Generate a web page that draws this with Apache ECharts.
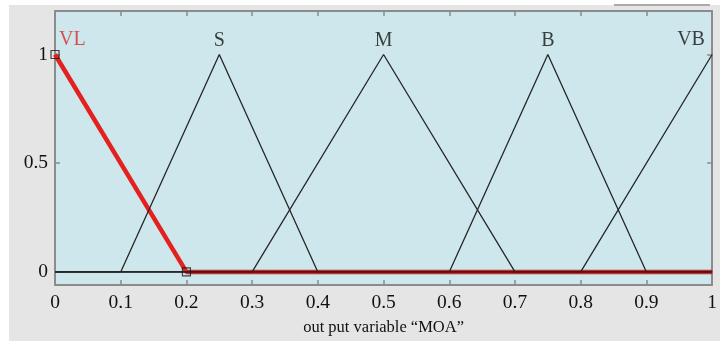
<!DOCTYPE html>
<html>
<head>
<meta charset="utf-8">
<script src="https://cdn.jsdelivr.net/npm/echarts@6/dist/echarts.min.js"></script>
<style>
  html, body { margin: 0; padding: 0; background: #ffffff; }
  #chart { width: 720px; height: 341px; }
</style>
</head>
<body>
<div id="chart"></div>
<script>
// Output variable "MOA": triangular membership functions on [0, 1]
const mfNames = ['VL', 'S', 'M', 'B', 'VB'];
const mfParams = [
  [0, 0, 0.2],
  [0.1, 0.25, 0.4],
  [0.3, 0.5, 0.7],
  [0.6, 0.75, 0.9],
  [0.8, 1, 1]
];
const xRange = [0, 1];
const xTicks = [0, 0.1, 0.2, 0.3, 0.4, 0.5, 0.6, 0.7, 0.8, 0.9, 1];
const yTicks = [0, 0.5, 1];
const selectedMf = 'VL';
const axisTitle = 'out put variable \u201cMOA\u201d';

// polyline of a triangular MF across the full universe of discourse
function trimfPoints(p) {
  const [a, b, c] = p;
  const pts = [];
  const push = (x, y) => {
    const last = pts[pts.length - 1];
    if (!last || last[0] !== x || last[1] !== y) pts.push([x, y]);
  };
  push(xRange[0], a === b ? 1 : 0);
  if (a !== b) push(a, 0);
  push(b, 1);
  if (b !== c) push(c, 0);
  push(xRange[1], c === b ? 1 : 0);
  return pts;
}

const serif = 'Liberation Serif, Times New Roman, serif';
const series = [];
const selIdx = mfNames.indexOf(selectedMf);

mfNames.forEach((name, i) => {
  if (i === selIdx) return;
  series.push({
    type: 'line',
    name: name,
    z: 3,
    symbol: 'none',
    lineStyle: { color: '#262626', width: 1.3 },
    data: trimfPoints(mfParams[i]),
    silent: true,
    animation: false
  });
});

// highlighted (selected) membership function
const selPts = trimfPoints(mfParams[selIdx]);
series.push({
  type: 'line',
  name: selectedMf,
  z: 2,
  symbol: 'none',
  lineStyle: { color: '#e3221f', width: 4.5 },
  data: selPts,
  silent: true,
  animation: false
});
// square handles on the selected MF's corner points
series.push({
  type: 'scatter',
  z: 4,
  symbol: 'rect',
  symbolSize: 8,
  itemStyle: { color: 'rgba(0,0,0,0)', borderColor: '#1a1a1a', borderWidth: 1.2 },
  data: selPts.filter(pt => pt[0] !== xRange[1]),
  silent: true,
  animation: false
});

// MF names written above each peak
series.push({
  type: 'scatter',
  z: 5,
  symbolSize: 0,
  silent: true,
  animation: false,
  data: mfNames.map((name, i) => {
    const peak = mfParams[i][1];
    const item = {
      value: [peak, 1],
      name: name,
      label: {
        show: true,
        formatter: name,
        position: 'top',
        distance: 4,
        color: i === selIdx ? '#d42a2e' : '#111111',
        fontFamily: serif,
        fontSize: 20
      }
    };
    if (peak === xRange[0]) { item.label.position = [4, -25]; }
    if (peak === xRange[1]) { item.label.position = [-35, -25]; }
    return item;
  })
});

const frame = { lineStyle: { color: '#8c8c8c', width: 2 } };
const tickStyle = { color: '#8c8c8c', width: 1.5 };

const option = {
  animation: false,
  backgroundColor: '#ffffff',
  graphic: [
    { type: 'rect', z: -10, shape: { x: 9, y: 5, width: 711, height: 336 }, style: { fill: '#e5e5e5' } },
    { type: 'line', z: -5, shape: { x1: 614, y1: 5, x2: 710, y2: 5 }, style: { stroke: '#aaaaaa', lineWidth: 2 } }
  ],
  grid: {
    left: 55, top: 11, width: 658, height: 274,
    show: true, backgroundColor: '#cde7ec', borderWidth: 0
  },
  xAxis: [
    {
      type: 'value', min: xRange[0], max: xRange[1], interval: 0.1,
      axisLine: { show: true, onZero: false, ...frame },
      axisTick: { show: true, inside: true, length: 5, lineStyle: tickStyle },
      axisLabel: {
        color: '#111', fontFamily: serif, fontSize: 19.5, margin: 8,
        customValues: xTicks,
        formatter: v => String(Math.round(v * 10) / 10)
      },
      splitLine: { show: false },
      name: axisTitle, nameLocation: 'middle', nameGap: 34,
      nameTextStyle: { color: '#111', fontFamily: serif, fontSize: 16.5 }
    },
    {
      type: 'value', position: 'top', min: xRange[0], max: xRange[1], interval: 0.1,
      axisLine: { show: true, onZero: false, ...frame },
      axisTick: { show: true, inside: true, length: 5, lineStyle: tickStyle },
      axisLabel: { show: false },
      splitLine: { show: false }
    }
  ],
  yAxis: [
    {
      type: 'value', min: -0.06, max: 1.2,
      axisLine: { show: true, onZero: false, ...frame },
      axisTick: { show: true, inside: true, length: 5, customValues: yTicks, lineStyle: tickStyle },
      axisLabel: {
        color: '#111', fontFamily: serif, fontSize: 19.5, margin: 7,
        customValues: yTicks,
        formatter: v => String(v)
      },
      splitLine: { show: false }
    },
    {
      type: 'value', position: 'right', min: -0.06, max: 1.2,
      axisLine: { show: true, onZero: false, ...frame },
      axisTick: { show: true, inside: true, length: 5, customValues: yTicks, lineStyle: tickStyle },
      axisLabel: { show: false },
      splitLine: { show: false }
    }
  ],
  series: series
};

const chart = echarts.init(document.getElementById('chart'), null, { renderer: 'canvas' });
chart.setOption(option);
</script>
</body>
</html>
